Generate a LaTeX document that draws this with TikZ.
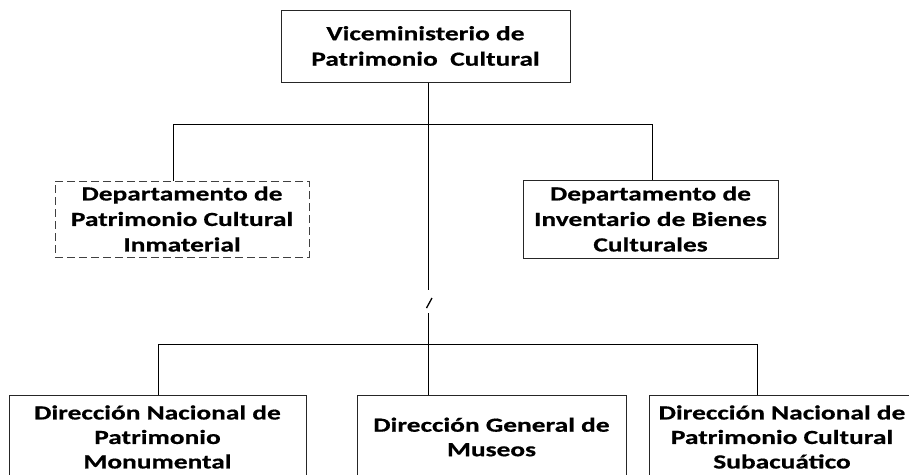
\documentclass[tikz,border=0pt]{standalone}
\usepackage{fontspec}
\newfontfamily\boxfont{Carlito}[FakeStretch=1.37, FakeBold=0.6]
\begin{document}
\begin{tikzpicture}[x=1pt,y=-1pt,
  orgbox/.style={draw=black!85, line width=1pt, rectangle, inner sep=0pt, align=center,
    font=\boxfont\bfseries\fontsize{20}{25.5}\selectfont},
  lowbox/.style={orgbox, font=\boxfont\bfseries\fontsize{20}{24.5}\selectfont},
  dashbox/.style={orgbox, draw=black!75, dash pattern=on 8pt off 4pt},
  link/.style={draw=black, line width=1pt}]
\clip (0,0) rectangle (909,474);
\node[orgbox, minimum width=289pt, minimum height=72pt] (top) at (425.5,46) {Viceministerio de\\Patrimonio\ \ Cultural};
\node[dashbox, minimum width=254pt, minimum height=76pt] (inm) at (182,219) {Departamento de\\Patrimonio Cultural\\Inmaterial};
\node[orgbox, minimum width=255pt, minimum height=78pt] (inv) at (650.5,219) {Departamento de\\Inventario de Bienes\\Culturales};
\node[lowbox, minimum width=297pt, minimum height=84pt] (mon) at (157.5,437) {Direcci\'on Nacional de\\Patrimonio\\Monumental};
\node[lowbox, minimum width=269pt, minimum height=84pt] (mus) at (491.5,437) {Direcci\'on General de\\Museos};
\node[lowbox, minimum width=266pt, minimum height=84pt] (sub) at (782,437) {Direcci\'on Nacional de\\Patrimonio Cultural\\Subacu\'atico};
% junctions
\coordinate (ja) at (428,124);
\coordinate (jl) at (173,124);
\coordinate (jr) at (652,124);
\coordinate (br1) at (428,290);
\coordinate (br2) at (428,313);
\coordinate (jb1) at (158,344);
\coordinate (jb3) at (757,344);
\coordinate (s1) at (426.5,308);
\coordinate (s2) at (432,298);
\draw[link] (top.south -| ja) -- (br1);
\draw[link] (jl) -- (jr);
\draw[link] (jl) -- (jl |- inm.north);
\draw[link] (jr) -- (jr |- inv.north);
\draw[link, line width=1.3pt] (s1) -- (s2);
\draw[link] (br2) -- (br2 |- mus.north);
\draw[link] (jb1) -- (jb3);
\draw[link] (jb1) -- (jb1 |- mon.north);
\draw[link] (jb3) -- (jb3 |- sub.north);
\end{tikzpicture}
\end{document}
